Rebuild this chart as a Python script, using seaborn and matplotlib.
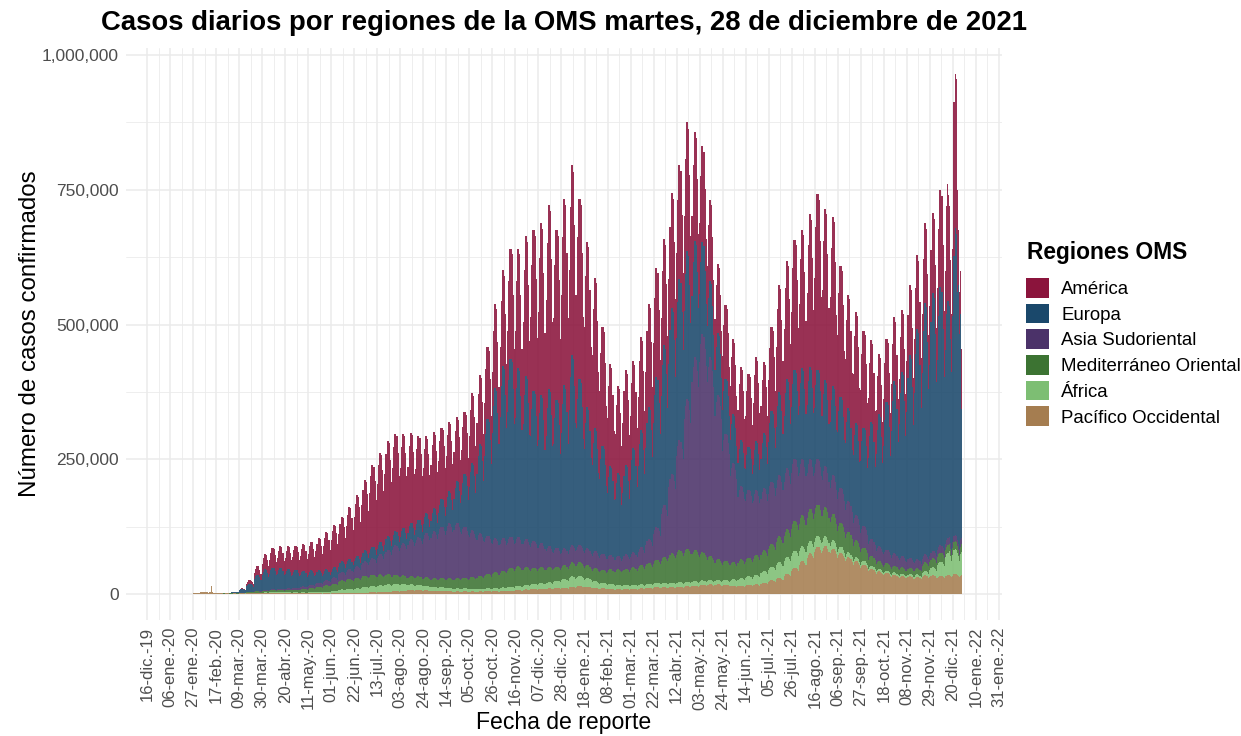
import matplotlib
matplotlib.use("Agg")
import matplotlib.pyplot as plt
import matplotlib.dates as mdates
import matplotlib.transforms as mtransforms
from matplotlib.patches import Patch
from matplotlib.ticker import FuncFormatter
import pandas as pd
import seaborn as sns

regiones = ["América", "Europa", "Asia Sudoriental", "Mediterráneo Oriental",
            "África", "Pacífico Occidental"]
colores = ["#8B143C", "#1A486B", "#4B3269", "#3C7332", "#7DBE73", "#A57D50"]

# Promedio diario de cada semana (miles de casos); semanas desde el lunes 06-ene-2020
inicio_semanal = "2020-01-06"
america_sem = [0, 0, 0, 0, 0, 0, 0, 0, 0.2, 1, 5, 14, 25, 32, 35, 37, 39, 43, 47, 52,
               60, 69, 72, 84, 99, 114, 133, 145, 155, 159, 153, 146, 136, 124, 123, 116, 113, 104, 101, 113,
               113, 117, 136, 155, 179, 194, 227, 262, 281, 300, 278, 304, 309, 294, 269, 244, 194, 166, 142, 155,
               141, 152, 168, 177, 172, 188, 186, 210, 177, 156, 132, 113, 120, 121, 118, 118, 136, 115, 137, 175,
               192, 211, 225, 248, 287, 279, 276, 214, 185, 180, 157, 133, 98, 103, 104, 101, 114, 120, 130, 131,
               159]
europa_sem = [0, 0, 0, 0, 0, 0, 0, 0.4, 2, 6, 14, 27, 34, 35, 34, 32, 29, 26, 23, 20,
              18, 17, 17, 17, 17, 18, 19, 20, 22, 23, 25, 27, 29, 33, 38, 45, 52, 68, 85, 110,
              145, 190, 245, 280, 290, 275, 265, 245, 240, 255, 240, 265, 310, 270, 230, 200, 175, 145, 135, 145,
              170, 190, 215, 245, 260, 270, 262, 240, 190, 150, 125, 100, 90, 80, 75, 70, 80, 90, 115, 135,
              145, 145, 148, 150, 145, 140, 145, 148, 150, 150, 160, 190, 215, 240, 280, 300, 330, 375, 410, 420,
              420]
asia_sem = [0, 0, 0, 0, 0, 0, 0, 0, 0.02, 0.05, 0.2, 0.5, 1, 1.5, 2.2, 2.8, 3.6, 4.5, 6, 7.5,
            9, 11, 15, 17, 20, 25, 29, 36, 43, 52, 57, 65, 69, 78, 83, 91, 97, 98, 90, 82,
            75, 68, 60, 58, 55, 52, 50, 47, 42, 37, 33, 30, 30, 30, 30, 30, 28, 25, 24, 25,
            27, 32, 42, 58, 92, 140, 195, 265, 340, 385, 350, 290, 225, 175, 130, 120, 115, 110, 110, 108,
            108, 110, 100, 88, 80, 72, 68, 62, 55, 45, 38, 30, 26, 24, 22, 20, 18, 16, 14, 13,
            13]
mediterraneo_sem = [0, 0, 0, 0, 0, 0, 0, 0.3, 1, 1.2, 1.8, 2.5, 3, 3.5, 3.8, 4.3, 5, 6, 7.5, 9,
                    11, 13, 16, 18, 19, 20, 20, 19, 18, 16, 15, 15, 15, 15, 15, 16, 17, 18, 19, 21,
                    23, 25, 28, 30, 33, 34, 32, 28, 29, 27, 25, 24, 25, 24, 23, 23, 23, 26, 27, 29,
                    31, 34, 37, 40, 46, 52, 56, 58, 55, 50, 43, 37, 33, 31, 33, 33, 35, 36, 40, 45,
                    48, 53, 55, 57, 56, 52, 47, 42, 36, 30, 24, 18, 14, 13, 12, 11, 11, 11, 15, 16,
                    16]
africa_sem = [0, 0, 0, 0, 0, 0, 0, 0, 0, 0.02, 0.1, 0.3, 0.5, 0.6, 0.8, 1, 1.2, 1.5, 2, 2.5,
              3.2, 4, 6, 7, 8, 10, 11, 12, 13, 13, 12, 10, 9, 8.5, 7, 6.5, 6, 5.5, 5.5, 5,
              5, 5, 5.5, 6, 7, 8, 8, 9, 10, 11, 13, 16, 18, 18, 15, 12, 10, 9, 8, 7.5,
              7, 7, 7, 8, 8, 8, 8, 8, 8, 8, 8, 8, 9, 11, 13, 15, 17, 21, 24, 28,
              30, 30, 26, 22, 19, 17, 15, 11, 9, 7, 6, 5, 4.5, 4, 4, 4, 4, 4.5, 8, 14,
              25]
pacifico_sem = [0, 0, 0.4, 2, 3.2, 2.8, 1.2, 0.9, 0.9, 1, 1.2, 1.8, 2.2, 2.5, 2.4, 2, 1.6, 1.3, 1.1, 1,
                1, 1.2, 2, 2, 2, 2.5, 3, 3.5, 4, 5, 6, 7, 7, 6.5, 6, 5.5, 5, 4.5, 4.5, 4.5,
                4.5, 5, 5, 5.5, 6, 7, 8, 9, 9.5, 10, 10.5, 11, 13, 14, 13, 11, 10, 9, 8.5, 8.5,
                9, 10, 11, 12, 12, 12, 13, 14, 15, 16, 17, 17, 16, 15, 15, 16, 17, 20, 24, 29,
                36, 46, 58, 72, 83, 85, 80, 72, 65, 58, 52, 45, 40, 37, 34, 32, 31, 30, 33, 33,
                32]

# Ultimos dias, dia a dia (miles de casos), del 13 al 28-dic-2021
inicio_diario = "2021-12-13"
america_dia = [147, 200, 218, 197, 185, 146, 108, 124, 285, 285, 287, 189, 103, 77, 80, 111]
europa_dia = [360, 420, 440, 440, 430, 380, 330, 420, 520, 570, 560, 460, 480, 400, 420, 240]
asia_dia = [12, 12, 12, 12, 12, 11, 10, 11, 12, 12, 12, 12, 11, 10, 12, 12]
mediterraneo_dia = [13, 14, 14, 14, 14, 12, 11, 13, 14, 14, 14, 13, 12, 11, 14, 14]
africa_dia = [35, 40, 42, 42, 44, 38, 30, 38, 45, 46, 44, 40, 36, 30, 40, 42]
pacifico_dia = [33, 34, 35, 35, 35, 33, 31, 34, 37, 38, 38, 36, 34, 32, 34, 36]

# Reparto dentro de la semana (lunes a domingo)
patron_fuerte = [0.84, 1.02, 1.14, 1.14, 1.12, 0.97, 0.77]
patron_suave = [0.94, 1.01, 1.05, 1.05, 1.04, 0.99, 0.92]

# Dias sueltos leidos aparte (miles de casos)
ajustes_diarios = [("2020-02-13", "Pacífico Occidental", 15.0)]

etiquetas_x = ["16-dic.-19", "06-ene.-20", "27-ene.-20", "17-feb.-20", "09-mar.-20", "30-mar.-20",
               "20-abr.-20", "11-may.-20", "01-jun.-20", "22-jun.-20", "13-jul.-20", "03-ago.-20",
               "24-ago.-20", "14-sep.-20", "05-oct.-20", "26-oct.-20", "16-nov.-20", "07-dic.-20",
               "28-dic.-20", "18-ene.-21", "08-feb.-21", "01-mar.-21", "22-mar.-21", "12-abr.-21",
               "03-may.-21", "24-may.-21", "14-jun.-21", "05-jul.-21", "26-jul.-21", "16-ago.-21",
               "06-sep.-21", "27-sep.-21", "18-oct.-21", "08-nov.-21", "29-nov.-21", "20-dic.-21",
               "10-ene.-22", "31-ene.-22"]
marcas_y = [0, 250000, 500000, 750000, 1000000]

semanales = dict(zip(regiones, [america_sem, europa_sem, asia_sem, mediterraneo_sem,
                                africa_sem, pacifico_sem]))
diarios = dict(zip(regiones, [america_dia, europa_dia, asia_dia, mediterraneo_dia,
                              africa_dia, pacifico_dia]))

filas = []
t0 = pd.Timestamp(inicio_semanal)
t1 = pd.Timestamp(inicio_diario)
for region in regiones:
    patron = patron_fuerte if region in ("América", "Europa") else patron_suave
    for k, nivel in enumerate(semanales[region]):
        for d in range(7):
            fecha = t0 + pd.Timedelta(days=7 * k + d)
            filas.append((fecha, region, nivel * patron[fecha.weekday()] * 1000))
    for d, valor in enumerate(diarios[region]):
        filas.append((t1 + pd.Timedelta(days=d), region, valor * 1000))
df = pd.DataFrame(filas, columns=["fecha", "region", "casos"])
for fecha, region, valor in ajustes_diarios:
    df.loc[(df["fecha"] == pd.Timestamp(fecha)) & (df["region"] == region), "casos"] = valor * 1000

sns.set_style("white")
plt.rcParams["font.family"] = ["Liberation Sans", "DejaVu Sans"]
plt.rcParams["text.color"] = "black"

fig = plt.figure(figsize=(12.41, 7.36), dpi=100)
ax = fig.add_axes([126 / 1241, 1 - 620 / 736, 876 / 1241, 572 / 736])

sns.histplot(data=df, x="fecha", weights="casos", hue="region", hue_order=regiones,
             multiple="stack", discrete=True, palette=colores, alpha=0.88,
             linewidth=0, edgecolor="none", legend=False, ax=ax)

# Ejes
x0 = mdates.date2num(pd.Timestamp("2019-12-16"))
px_dia = 1.0965
ax.set_xlim(x0 - 21 / px_dia, x0 + 855 / px_dia)
ax.set_ylim(-48250, 1013250)

fechas_marcas = pd.date_range("2019-12-16", periods=len(etiquetas_x), freq="21D")
pos_marcas = mdates.date2num(fechas_marcas)
ax.set_xticks(pos_marcas)
ax.set_xticks(pos_marcas[:-1] + 10.5, minor=True)
ax.set_xticklabels(etiquetas_x, rotation=90, fontsize=12, color="#4D4D4D")
desplaza = mtransforms.ScaledTranslation(5 / 100, 0, fig.dpi_scale_trans)
for etiqueta in ax.get_xticklabels():
    etiqueta.set_transform(etiqueta.get_transform() + desplaza)

ax.set_yticks(marcas_y)
ax.set_yticks([125000, 375000, 625000, 875000], minor=True)
ax.yaxis.set_major_formatter(FuncFormatter(lambda v, p: f"{int(v):,}"))
ax.tick_params(axis="y", labelsize=12.5, labelcolor="#4D4D4D", pad=5)
ax.tick_params(axis="x", pad=5)
ax.tick_params(which="both", length=0)

ax.grid(which="major", color="#EBEBEB", linewidth=1.1)
ax.grid(which="minor", color="#EBEBEB", linewidth=0.6)
ax.set_axisbelow(True)
sns.despine(ax=ax, left=True, bottom=True)
ax.set_xlabel("")
ax.set_ylabel("")

fig.text(564 / 1241, 1 - 23 / 736, "Casos diarios por regiones de la OMS martes, 28 de diciembre de 2021",
         ha="center", va="center", fontsize=19.8, fontweight="bold", color="black")
fig.text(564 / 1241, 1 - 722 / 736, "Fecha de reporte", ha="center", va="center",
         fontsize=16.6, color="black")
fig.text(30 / 1241, 1 - 334 / 736, "Número de casos confirmados", ha="center", va="center",
         rotation=90, fontsize=17.4, color="black")

# Leyenda: titulo aparte para separarlo de las entradas como en la referencia
fig.text(1027 / 1241, 1 - 253 / 736, "Regiones OMS", ha="left", va="center",
         fontsize=16.4, fontweight="bold", color="black")
manijas = [Patch(facecolor=c, edgecolor="none") for c in colores]
leyenda = fig.legend(manijas, regiones, loc="upper left", bbox_to_anchor=(1026 / 1241, 1 - 278 / 736),
                     frameon=False, fontsize=13.4, handlelength=1.25,
                     handleheight=1.25, handletextpad=0.65, labelspacing=0.3, borderpad=0,
                     borderaxespad=0)
for texto in leyenda.get_texts():
    texto.set_color("black")

fig.savefig("out.png", dpi=100)
